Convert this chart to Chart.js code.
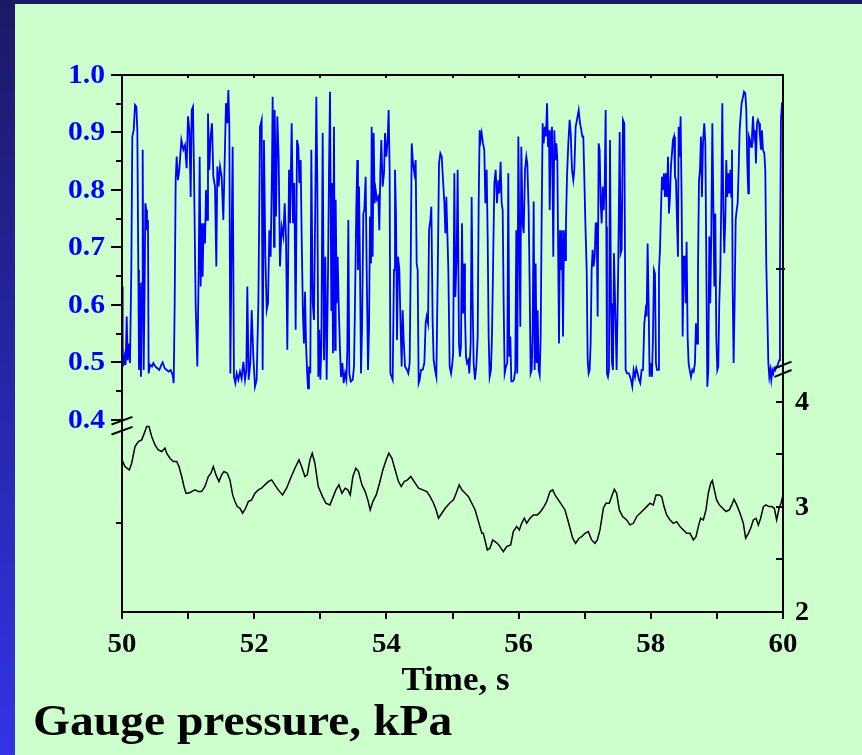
<!DOCTYPE html>
<html>
<head>
<meta charset="utf-8">
<script src="https://cdn.jsdelivr.net/npm/chart.js@4.4.1/dist/chart.umd.min.js"></script>
<style>
  html, body { margin: 0; padding: 0; background: #1b1a66; }
  #plot { display: block; }
</style>
</head>
<body>
<canvas id="plot" width="862" height="755"></canvas>
<script>
// upper trace (left axis, 0.4 - 1.0)
var upperTime = [
  50.000, 50.010, 50.020, 50.040, 50.055, 50.071, 50.086, 50.101, 50.121, 50.141,
  50.156, 50.177, 50.197, 50.217, 50.232, 50.247, 50.257, 50.272, 50.287, 50.303,
  50.313, 50.328, 50.343, 50.353, 50.368, 50.378, 50.393, 50.403, 50.424, 50.454,
  50.474, 50.504, 50.534, 50.565, 50.595, 50.615, 50.646, 50.676, 50.706, 50.736,
  50.767, 50.782, 50.797, 50.812, 50.827, 50.847, 50.867, 50.898, 50.928, 50.953,
  50.978, 50.998, 51.019, 51.039, 51.054, 51.074, 51.089, 51.114, 51.140, 51.160,
  51.175, 51.190, 51.205, 51.220, 51.235, 51.256, 51.271, 51.286, 51.301, 51.321,
  51.341, 51.362, 51.382, 51.407, 51.427, 51.442, 51.462, 51.483, 51.508, 51.533,
  51.548, 51.573, 51.593, 51.609, 51.624, 51.639, 51.659, 51.674, 51.694, 51.715,
  51.735, 51.760, 51.785, 51.810, 51.836, 51.861, 51.881, 51.896, 51.916, 51.941,
  51.962, 51.987, 52.012, 52.037, 52.063, 52.088, 52.113, 52.128, 52.148, 52.169,
  52.189, 52.209, 52.229, 52.249, 52.269, 52.279, 52.300, 52.310, 52.330, 52.350,
  52.370, 52.390, 52.415, 52.441, 52.461, 52.481, 52.501,
  52.527, 52.542, 52.567, 52.587, 52.607, 52.627, 52.648, 52.668, 52.683, 52.703,
  52.718, 52.738, 52.753, 52.769, 52.784, 52.799, 52.814, 52.829, 52.849, 52.864,
  52.885, 52.905, 52.925, 52.940, 52.955, 52.970, 52.985, 53.001, 53.016, 53.036,
  53.056, 53.076, 53.096, 53.117, 53.132, 53.147, 53.167, 53.177, 53.192, 53.207,
  53.223, 53.233, 53.248, 53.263, 53.278, 53.298, 53.313, 53.334, 53.354, 53.374,
  53.394, 53.409, 53.424, 53.439, 53.460, 53.490, 53.510, 53.525, 53.545, 53.560,
  53.570, 53.586, 53.601, 53.616, 53.631, 53.651, 53.666, 53.686, 53.702, 53.722,
  53.737, 53.752, 53.767, 53.777, 53.792, 53.807, 53.823, 53.838, 53.858, 53.878,
  53.893, 53.908, 53.923, 53.943, 53.964, 53.979, 53.999, 54.019, 54.034, 54.049,
  54.060, 54.080, 54.095, 54.115, 54.130, 54.145, 54.161, 54.176, 54.196, 54.216,
  54.231, 54.246, 54.261, 54.282, 54.312, 54.332, 54.352, 54.367, 54.383, 54.403,
  54.423, 54.443, 54.458, 54.473, 54.488, 54.504, 54.524, 54.549, 54.574, 54.594,
  54.609, 54.630, 54.645, 54.665, 54.680, 54.700, 54.715, 54.736, 54.756, 54.776,
  54.796, 54.816, 54.837, 54.857, 54.877, 54.892, 54.907, 54.922, 54.937, 54.957,
  54.978, 54.998,
  55.010, 55.028, 55.043, 55.063, 55.078, 55.098, 55.113, 55.128, 55.144, 55.159,
  55.174, 55.189, 55.204, 55.219, 55.239, 55.254, 55.275, 55.290, 55.305, 55.320,
  55.340, 55.360, 55.381, 55.396, 55.411, 55.426, 55.441, 55.461, 55.481, 55.497,
  55.517, 55.532, 55.547, 55.562, 55.582, 55.597, 55.613, 55.633, 55.653, 55.673,
  55.693, 55.708, 55.728, 55.744, 55.759, 55.774, 55.789, 55.809, 55.829, 55.844,
  55.859, 55.875, 55.890, 55.910, 55.930, 55.950, 55.965, 55.980, 55.996, 56.011,
  56.026, 56.041, 56.061, 56.077, 56.097, 56.117, 56.132, 56.152, 56.167, 56.182,
  56.198, 56.213, 56.228, 56.243, 56.258, 56.273, 56.288, 56.303, 56.319, 56.334,
  56.349, 56.364, 56.379, 56.399, 56.414, 56.430, 56.445, 56.460, 56.470, 56.485,
  56.505, 56.525, 56.540, 56.556, 56.571, 56.586, 56.601, 56.611, 56.626, 56.641,
  56.656, 56.672, 56.687, 56.702, 56.717, 56.732, 56.752, 56.772, 56.788, 56.808,
  56.828, 56.843, 56.863, 56.883, 56.909, 56.929, 56.949, 56.964, 56.979, 56.994,
  57.009, 57.030, 57.045, 57.060, 57.075, 57.090, 57.105, 57.120, 57.135, 57.151,
  57.166, 57.181, 57.196, 57.211, 57.226, 57.242, 57.257, 57.272, 57.287, 57.302,
  57.317, 57.327, 57.337, 57.352, 57.367, 57.383, 57.398, 57.413, 57.428, 57.443,
  57.483, 57.508, 57.529, 57.544, 57.559, 57.579, 57.599, 57.619, 57.640, 57.670,
  57.700, 57.720, 57.740, 57.761, 57.781, 57.801, 57.821, 57.841, 57.861, 57.882,
  57.902, 57.922, 57.937, 57.952, 57.967, 57.982, 58.003, 58.018, 58.033, 58.048,
  58.063, 58.078, 58.093, 58.109, 58.124, 58.139, 58.154, 58.169, 58.184, 58.199,
  58.214, 58.230, 58.245, 58.260, 58.275, 58.290, 58.305, 58.320, 58.335, 58.351,
  58.366, 58.381, 58.396, 58.411, 58.421, 58.436, 58.451, 58.467, 58.482, 58.497,
  58.512, 58.527, 58.542, 58.557, 58.572, 58.588, 58.608, 58.628, 58.648, 58.668,
  58.683, 58.699, 58.714, 58.729, 58.744, 58.759, 58.774, 58.789, 58.809, 58.825,
  58.840, 58.855, 58.870, 58.885, 58.900, 58.915, 58.931, 58.946, 58.961, 58.976,
  58.991, 59.006, 59.021, 59.036, 59.052, 59.067, 59.082, 59.097, 59.112, 59.127,
  59.142, 59.157, 59.173, 59.188, 59.203, 59.218, 59.228, 59.238, 59.253, 59.268,
  59.284, 59.299, 59.314, 59.329, 59.344, 59.359, 59.374, 59.395, 59.410, 59.430,
  59.445, 59.460, 59.475, 59.485, 59.500, 59.516, 59.531, 59.546, 59.561, 59.576,
  59.591, 59.606, 59.621, 59.637, 59.652, 59.667, 59.682, 59.697, 59.717, 59.732,
  59.747, 59.763, 59.778, 59.793, 59.808, 59.823, 59.838, 59.853, 59.869, 59.884,
  59.899, 59.914, 59.929, 59.944, 59.954, 59.969, 59.985, 60.000
];
var upperValue = [
  0.632, 0.528, 0.493, 0.510, 0.496, 0.580, 0.504, 0.533, 0.499, 0.661,
  0.893, 0.904, 0.948, 0.945, 0.904, 0.661, 0.487, 0.638, 0.475, 0.638,
  0.870, 0.487, 0.638, 0.777, 0.765, 0.730, 0.748, 0.481, 0.496, 0.493,
  0.499, 0.493, 0.490, 0.487, 0.496, 0.500, 0.490, 0.487, 0.484, 0.487,
  0.478, 0.464, 0.603, 0.817, 0.858, 0.817, 0.835, 0.887, 0.870, 0.878,
  0.838, 0.928, 0.904, 0.788, 0.939, 0.945, 0.835, 0.603, 0.493, 0.661,
  0.858, 0.632, 0.742, 0.649, 0.742, 0.707, 0.800, 0.748, 0.933, 0.835,
  0.893, 0.916, 0.823, 0.806, 0.667, 0.841, 0.806, 0.841, 0.823, 0.748,
  0.823, 0.951, 0.916, 0.974, 0.910, 0.481, 0.719, 0.875, 0.475, 0.464,
  0.481, 0.470, 0.484, 0.472, 0.501, 0.470, 0.487, 0.632, 0.470, 0.499,
  0.591, 0.510, 0.458, 0.470, 0.603, 0.910, 0.922, 0.487, 0.887, 0.684,
  0.591, 0.603, 0.730, 0.684, 0.835, 0.962, 0.701, 0.939, 0.754, 0.928,
  0.858, 0.667, 0.736, 0.719, 0.777, 0.719, 0.522,
  0.835, 0.742, 0.916, 0.742, 0.812, 0.557, 0.887, 0.875, 0.812, 0.852,
  0.719, 0.580, 0.533, 0.623, 0.533, 0.487, 0.455, 0.493, 0.481, 0.870,
  0.603, 0.574, 0.788, 0.962, 0.812, 0.475, 0.557, 0.470, 0.528, 0.899,
  0.504, 0.684, 0.470, 0.661, 0.835, 0.971, 0.591, 0.812, 0.516, 0.910,
  0.522, 0.783, 0.603, 0.684, 0.603, 0.522, 0.475, 0.499, 0.464, 0.481,
  0.470, 0.522, 0.748, 0.481, 0.467, 0.470, 0.493, 0.603, 0.771, 0.852,
  0.661, 0.806, 0.661, 0.481, 0.557, 0.759, 0.765, 0.823, 0.661, 0.487,
  0.557, 0.754, 0.672, 0.910, 0.684, 0.899, 0.777, 0.800, 0.783, 0.788,
  0.730, 0.829, 0.887, 0.806, 0.829, 0.899, 0.858, 0.887, 0.939, 0.835,
  0.481, 0.475, 0.470, 0.661, 0.835, 0.759, 0.539, 0.684, 0.661, 0.557,
  0.493, 0.591, 0.539, 0.493, 0.487, 0.481, 0.499, 0.661, 0.881, 0.846,
  0.829, 0.852, 0.672, 0.661, 0.464, 0.470, 0.487, 0.487, 0.499, 0.568,
  0.580, 0.568, 0.730, 0.748, 0.771, 0.568, 0.504, 0.487, 0.475, 0.649,
  0.846, 0.864, 0.858, 0.817, 0.777, 0.725, 0.788, 0.725, 0.661, 0.493,
  0.481, 0.499,
  0.516, 0.829, 0.614, 0.684, 0.835, 0.533, 0.510, 0.528, 0.742, 0.585,
  0.672, 0.585, 0.510, 0.499, 0.504, 0.481, 0.533, 0.788, 0.603, 0.499,
  0.470, 0.493, 0.545, 0.777, 0.904, 0.887, 0.899, 0.881, 0.870, 0.777,
  0.835, 0.719, 0.545, 0.475, 0.487, 0.545, 0.661, 0.812, 0.835, 0.777,
  0.817, 0.794, 0.849, 0.777, 0.765, 0.603, 0.481, 0.493, 0.499, 0.829,
  0.510, 0.545, 0.467, 0.467, 0.470, 0.487, 0.730, 0.481, 0.893, 0.719,
  0.562, 0.875, 0.742, 0.725, 0.835, 0.858, 0.846, 0.765, 0.638, 0.481,
  0.487, 0.557, 0.780, 0.487, 0.672, 0.499, 0.591, 0.487, 0.478, 0.545,
  0.754, 0.916, 0.881, 0.910, 0.893, 0.951, 0.875, 0.904, 0.765, 0.875,
  0.910, 0.684, 0.904, 0.852, 0.881, 0.852, 0.661, 0.533, 0.730, 0.661,
  0.730, 0.545, 0.730, 0.678, 0.742, 0.823, 0.881, 0.922, 0.899, 0.835,
  0.817, 0.835, 0.910, 0.922, 0.939, 0.916, 0.904, 0.893, 0.893, 0.823,
  0.748, 0.661, 0.504, 0.481, 0.487, 0.533, 0.661, 0.696, 0.667, 0.684,
  0.742, 0.742, 0.580, 0.881, 0.870, 0.777, 0.742, 0.806, 0.765, 0.800,
  0.939, 0.736, 0.481, 0.475, 0.487, 0.887, 0.603, 0.499, 0.487, 0.690,
  0.487, 0.672, 0.901, 0.690, 0.696, 0.922, 0.916, 0.487, 0.481, 0.481,
  0.470, 0.458, 0.487, 0.475, 0.490, 0.481, 0.470, 0.464, 0.487, 0.487,
  0.568, 0.591, 0.580, 0.707, 0.603, 0.475, 0.499, 0.475, 0.545, 0.661,
  0.655, 0.499, 0.487, 0.487, 0.661, 0.696, 0.765, 0.823, 0.800, 0.829,
  0.788, 0.829, 0.788, 0.858, 0.759, 0.788, 0.841, 0.864, 0.887, 0.893,
  0.823, 0.817, 0.748, 0.684, 0.910, 0.858, 0.928, 0.777, 0.545, 0.684,
  0.684, 0.603, 0.710, 0.545, 0.499, 0.487, 0.475, 0.487, 0.484, 0.499,
  0.568, 0.533, 0.661, 0.817, 0.835, 0.893, 0.788, 0.881, 0.916, 0.881,
  0.672, 0.458, 0.487, 0.719, 0.603, 0.725, 0.916, 0.777, 0.632, 0.759,
  0.545, 0.487, 0.493, 0.603, 0.661, 0.788, 0.951, 0.765, 0.690, 0.748,
  0.852, 0.788, 0.829, 0.794, 0.835, 0.788, 0.870, 0.632, 0.499, 0.603,
  0.748, 0.765, 0.777, 0.835, 0.904, 0.928, 0.951, 0.962, 0.971, 0.968,
  0.939, 0.846, 0.794, 0.893, 0.887, 0.875, 0.893, 0.928, 0.893, 0.904,
  0.846, 0.916, 0.922, 0.916, 0.893, 0.870, 0.904, 0.870, 0.864, 0.835,
  0.672, 0.585, 0.499, 0.475, 0.487, 0.470, 0.487, 0.481, 0.490, 0.487,
  0.493, 0.493, 0.499, 0.504, 0.661, 0.922, 0.951, 0.953
];

// gauge pressure trace, kPa (right axis)
var pressTime = [
  50.000, 50.045, 50.111, 50.146, 50.197, 50.247, 50.298, 50.338, 50.373, 50.408,
  50.449, 50.499, 50.549, 50.600, 50.650, 50.676, 50.726, 50.777, 50.827, 50.862,
  50.903, 50.938, 50.968, 51.004, 51.054, 51.104, 51.155, 51.205, 51.255, 51.306,
  51.346, 51.381, 51.422, 51.467, 51.507, 51.543, 51.593, 51.633, 51.674, 51.709,
  51.744, 51.785, 51.825, 51.870, 51.911, 51.961, 52.011, 52.062, 52.112, 52.162,
  52.213, 52.263, 52.313, 52.364, 52.429, 52.490, 52.550, 52.616, 52.677, 52.717,
  52.767, 52.802, 52.843, 52.878, 52.918, 52.969, 53.034, 53.085, 53.145, 53.196,
  53.236, 53.281, 53.327, 53.377, 53.417, 53.453, 53.493, 53.538, 53.578, 53.629,
  53.679, 53.719, 53.755, 53.795, 53.846, 53.896, 53.946, 53.997, 54.037, 54.083,
  54.133, 54.183, 54.224, 54.269, 54.319, 54.370, 54.420, 54.486, 54.551, 54.612,
  54.662, 54.713, 54.753, 54.788, 54.839, 54.889, 54.955, 55.015, 55.055, 55.101,
  55.141, 55.192, 55.242, 55.292, 55.343, 55.393, 55.444, 55.466, 55.527, 55.567,
  55.608, 55.643, 55.678, 55.718, 55.769, 55.819, 55.880, 55.920, 55.971, 56.011,
  56.046, 56.087, 56.122, 56.172, 56.223, 56.283, 56.334, 56.384, 56.425, 56.475,
  56.515, 56.551, 56.601, 56.652, 56.702, 56.737, 56.778, 56.818, 56.863, 56.914,
  56.954, 57.005, 57.055, 57.105, 57.156, 57.191, 57.231, 57.282, 57.322, 57.372,
  57.408, 57.448, 57.483, 57.524, 57.574, 57.635, 57.685, 57.736, 57.786, 57.837,
  57.887, 57.938, 57.988, 58.038, 58.079, 58.129, 58.165, 58.200, 58.240, 58.291,
  58.341, 58.391, 58.442, 58.492, 58.543, 58.593, 58.644, 58.684, 58.719, 58.754,
  58.795, 58.835, 58.870, 58.906, 58.931, 58.961, 58.996, 59.037, 59.087, 59.138,
  59.188, 59.224, 59.259, 59.300, 59.350, 59.400, 59.435, 59.476, 59.511, 59.551,
  59.592, 59.627, 59.662, 59.703, 59.743, 59.783, 59.829, 59.869, 59.904, 59.940,
  59.970, 60.000
];
var pressValue = [
  3.448, 3.384, 3.352, 3.416, 3.575, 3.622, 3.638, 3.702, 3.765, 3.765,
  3.670, 3.590, 3.543, 3.527, 3.559, 3.511, 3.463, 3.432, 3.432, 3.384,
  3.289, 3.194, 3.130, 3.130, 3.146, 3.162, 3.146, 3.146, 3.194, 3.289,
  3.321, 3.384, 3.305, 3.241, 3.305, 3.337, 3.321, 3.257, 3.114, 3.051,
  3.003, 2.987, 2.940, 2.987, 3.051, 3.067, 3.130, 3.162, 3.178, 3.210,
  3.241, 3.257, 3.210, 3.162, 3.114, 3.178, 3.273, 3.368, 3.448, 3.384,
  3.289, 3.305, 3.448, 3.511, 3.416, 3.194, 3.098, 3.035, 3.019, 3.098,
  3.162, 3.210, 3.130, 3.178, 3.162, 3.114, 3.289, 3.368, 3.337, 3.210,
  3.146, 3.067, 2.971, 3.051, 3.114, 3.225, 3.352, 3.448, 3.511, 3.463,
  3.352, 3.241, 3.194, 3.241, 3.257, 3.289, 3.241, 3.178, 3.162, 3.146,
  3.098, 3.035, 2.971, 2.892, 2.940, 2.987, 3.035, 3.067, 3.130, 3.210,
  3.162, 3.130, 3.098, 3.035, 2.971, 2.860, 2.749, 2.749, 2.590, 2.606,
  2.686, 2.670, 2.654, 2.622, 2.575, 2.622, 2.638, 2.765, 2.813, 2.781,
  2.844, 2.892, 2.844, 2.892, 2.924, 2.924, 2.956, 3.003, 3.051, 3.146,
  3.162, 3.114, 3.067, 3.019, 2.971, 2.892, 2.797, 2.702, 2.654, 2.702,
  2.717, 2.749, 2.765, 2.686, 2.654, 2.686, 2.781, 2.987, 3.035, 3.035,
  3.098, 3.168, 3.130, 2.971, 2.908, 2.876, 2.829, 2.844, 2.908, 2.940,
  2.971, 3.003, 3.035, 3.019, 3.114, 3.114, 3.098, 3.003, 2.924, 2.876,
  2.844, 2.860, 2.813, 2.781, 2.749, 2.749, 2.686, 2.717, 2.813, 2.892,
  2.876, 2.971, 3.130, 3.225, 3.251, 3.162, 3.067, 3.019, 2.987, 2.956,
  2.971, 3.019, 3.073, 3.019, 2.940, 2.844, 2.702, 2.749, 2.797, 2.876,
  2.892, 2.829, 2.892, 3.003, 3.019, 3.003, 3.003, 2.987, 2.876, 2.987,
  3.035, 3.114
];

// axis ticks
var timeLabels = [50, 52, 54, 56, 58, 60];
var timeTicks = [50, 51, 52, 53, 54, 55, 56, 57, 58, 59, 60];
var upperMajor = [0.4, 0.5, 0.6, 0.7, 0.8, 0.9, 1.0];
var upperMinor = [0.45, 0.55, 0.65, 0.75, 0.85, 0.95];
var upperRightTicks = [0.662];
var pressLabels = [2, 3, 4];
var pressTicks = [2, 2.5, 3, 3.5, 4];
var pressLeftTicks = [2.85];
var upperBreak = 0.39;
var pressBreak = 4.31;

var serif = '"Liberation Serif", "Times New Roman", serif';

function toPoints(xs, ys) {
    var n = Math.min(xs.length, ys.length);
    var pts = [];
    for (var i = 0; i < n; i++) pts.push({x: xs[i], y: ys[i]});
    return pts;
}

// text drawn a little wider than the font's own width
function wideText(ctx, text, x, y, align, sx) {
    ctx.save();
    ctx.translate(x, y);
    ctx.scale(sx, 1);
    ctx.textAlign = align;
    ctx.fillText(text, 0, 0);
    ctx.restore();
}

function line(ctx, x1, y1, x2, y2) {
    ctx.beginPath();
    ctx.moveTo(x1, y1);
    ctx.lineTo(x2, y2);
    ctx.stroke();
}

var slideFrame = {
    id: 'slideFrame',
    beforeDraw: function(chart) {
        var ctx = chart.ctx;
        var g = ctx.createLinearGradient(0, 0, 0, chart.height);
        g.addColorStop(0, '#1b1a66');
        g.addColorStop(0.5, '#2626a8');
        g.addColorStop(1, '#3434e6');
        ctx.save();
        ctx.fillStyle = g;
        ctx.fillRect(0, 0, chart.width, chart.height);
        ctx.fillStyle = '#ccffcc';
        ctx.fillRect(15, 4, chart.width - 15, chart.height - 4);
        ctx.restore();
    },
    afterDatasetsDraw: function(chart) {
        var ctx = chart.ctx;
        var a = chart.chartArea;
        var sx = chart.scales.x, yU = chart.scales.yUpper, yP = chart.scales.yPress;
        ctx.save();
        ctx.strokeStyle = '#000';
        ctx.lineWidth = 2;
        ctx.lineCap = 'butt';
        ctx.strokeRect(a.left, a.top, a.right - a.left, a.bottom - a.top);

        // left axis ticks (outside)
        upperMajor.forEach(function(v) {
            var p = Math.round(yU.getPixelForValue(v));
            line(ctx, a.left - 11, p, a.left, p);
        });
        upperMinor.forEach(function(v) {
            var p = Math.round(yU.getPixelForValue(v));
            line(ctx, a.left - 6, p, a.left, p);
        });
        pressLeftTicks.forEach(function(v) {
            var p = Math.round(yP.getPixelForValue(v));
            line(ctx, a.left - 6, p, a.left, p);
        });
        // right axis ticks (inside)
        pressTicks.forEach(function(v) {
            var p = Math.round(yP.getPixelForValue(v));
            line(ctx, a.right - 7, p, a.right, p);
        });
        upperRightTicks.forEach(function(v) {
            var p = Math.round(yU.getPixelForValue(v));
            line(ctx, a.right - 7, p, a.right + 2, p);
        });
        // time ticks
        timeTicks.forEach(function(t) {
            var p = Math.round(sx.getPixelForValue(t));
            line(ctx, p, a.bottom, p, a.bottom + 7);
            if (t > 50 && t < 60) line(ctx, p, a.top, p, a.top + 3);
        });

        // axis breaks
        var by = yU.getPixelForValue(upperBreak);
        [-5, 5].forEach(function(d) {
            line(ctx, a.left - 10.5, by + d + 3.8, a.left + 10.5, by + d - 3.8);
        });
        var ry = yP.getPixelForValue(pressBreak);
        [-4.2, 4.2].forEach(function(d) {
            line(ctx, a.right - 8.5, ry + d + 3.4, a.right + 8.5, ry + d - 3.4);
        });

        // tick labels
        ctx.textBaseline = 'middle';
        ctx.fillStyle = '#0000ff';
        ctx.font = 'bold 27px ' + serif;
        upperMajor.forEach(function(v) {
            wideText(ctx, v.toFixed(1), a.left - 17, yU.getPixelForValue(v) + 1, 'right', 1.1);
        });
        ctx.fillStyle = '#000';
        ctx.font = 'bold 28px ' + serif;
        pressLabels.forEach(function(v) {
            wideText(ctx, String(v), a.right + 12, yP.getPixelForValue(v) + 1, 'left', 1.0);
        });
        ctx.font = 'bold 27px ' + serif;
        timeLabels.forEach(function(t) {
            wideText(ctx, String(t), sx.getPixelForValue(t), a.bottom + 33, 'center', 1.07);
        });

        // axis titles
        ctx.font = 'bold 33px ' + serif;
        wideText(ctx, 'Time, s', (a.left + a.right) / 2 + 3, a.bottom + 69, 'center', 1.06);
        ctx.textBaseline = 'alphabetic';
        ctx.font = 'bold 44px ' + serif;
        wideText(ctx, 'Gauge pressure, kPa', 33, 735, 'left', 1.08);
        ctx.restore();
    }
};

var chart = new Chart(document.getElementById('plot'), {
    type: 'line',
    data: {
        datasets: [{
            data: toPoints(pressTime, pressValue),
            yAxisID: 'yPress',
            borderColor: '#000000',
            borderWidth: 1.5,
            pointRadius: 0,
            tension: 0
        }, {
            data: toPoints(upperTime, upperValue),
            yAxisID: 'yUpper',
            borderColor: '#0000ff',
            borderWidth: 1.8,
            pointRadius: 0,
            tension: 0
        }]
    },
    options: {
        responsive: false,
        animation: false,
        devicePixelRatio: 1,
        events: [],
        layout: {padding: {left: 122, top: 75, right: 79, bottom: 143}},
        plugins: {legend: {display: false}, tooltip: {enabled: false}},
        scales: {
            x: {type: 'linear', min: 50, max: 60, display: false},
            yUpper: {type: 'linear', position: 'left', min: 0.066, max: 1.0, display: false},
            yPress: {type: 'linear', position: 'right', min: 2, max: 7.11, display: false}
        }
    },
    plugins: [slideFrame]
});
</script>
</body>
</html>
